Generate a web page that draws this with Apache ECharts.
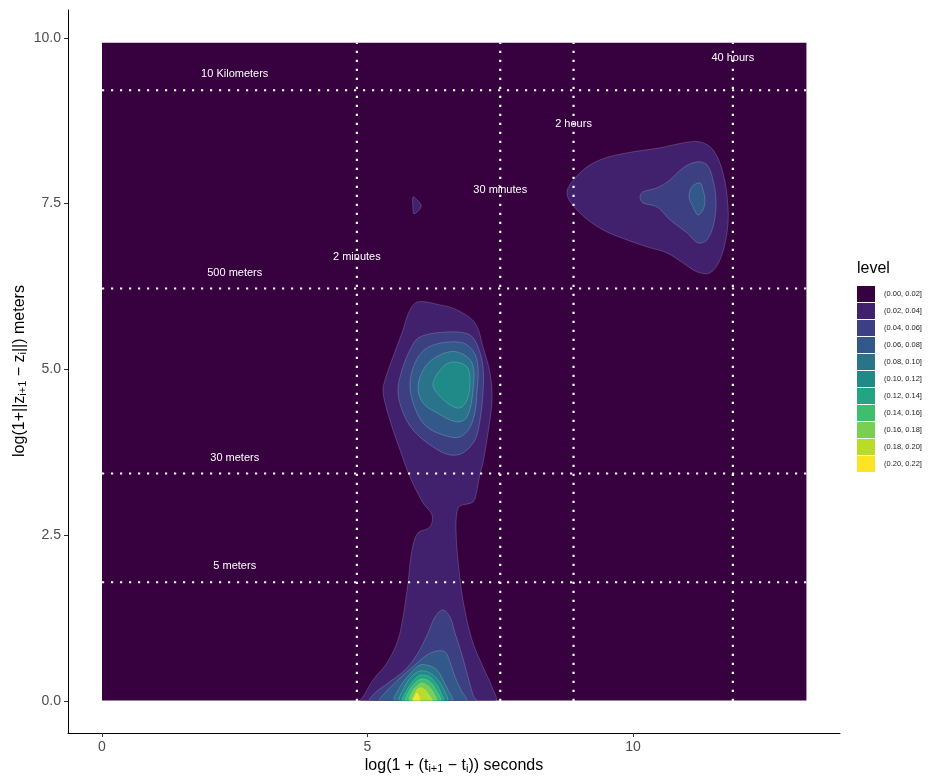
<!DOCTYPE html>
<html>
<head>
<meta charset="utf-8">
<script src="https://cdn.jsdelivr.net/npm/echarts@6/dist/echarts.min.js"></script>
<style>
  html, body { margin: 0; padding: 0; background: #ffffff; }
  #chart { width: 930px; height: 777px; }
</style>
</head>
<body>
<div id="chart"></div>
<script>
// Density bands of consecutive displacements: time gap (x) against distance (y).
const levelLabels = [
  '(0.00, 0.02]', '(0.02, 0.04]', '(0.04, 0.06]', '(0.06, 0.08]', '(0.08, 0.10]', '(0.10, 0.12]',
  '(0.12, 0.14]', '(0.14, 0.16]', '(0.16, 0.18]', '(0.18, 0.20]', '(0.20, 0.22]'
];
const levelColors = [
  '#37013f', '#41206d', '#3c3f82', '#33598a', '#29738b', '#1f8a88',
  '#22a583', '#41bd70', '#78cf51', '#b8dc28', '#fbe426'
];

// Extent of the estimated density field
const fieldX = [0, 13.27];
const fieldY = [0, 9.93];

// Contour polygons, [log seconds, log meters], one array per band
const band0 = [[[0, 0], [13.27, 0], [13.27, 9.93], [0, 9.93]]];
const band1 = [
  [[5.951, 6.018], [6.365, 5.973], [6.686, 5.897], [7.024, 5.701], [7.175, 5.339], [7.307, 4.947],
   [7.345, 4.540], [7.269, 4.042], [7.175, 3.590], [7.119, 3.424], [7.062, 3.183], [6.987, 3.002],
   [6.742, 2.941], [6.686, 2.851], [6.667, 2.579], [6.704, 2.127], [6.798, 1.523], [6.968, 0.920],
   [7.175, 0.513], [7.345, 0.211], [7.401, 0], [4.859, 0], [4.915, 0.060], [5.104, 0.317],
   [5.367, 0.573], [5.574, 0.920], [5.669, 1.267], [5.763, 1.780], [5.838, 2.278], [5.951, 2.534],
   [6.177, 2.624], [6.215, 2.805], [6.045, 2.986], [5.800, 3.379], [5.612, 3.786], [5.461, 4.133],
   [5.330, 4.495], [5.292, 4.691], [5.330, 4.842], [5.480, 5.189], [5.650, 5.551], [5.800, 5.897]],
  [[8.757, 7.662], [9.002, 7.964], [9.379, 8.160], [9.887, 8.265], [10.508, 8.341], [10.942, 8.416],
   [11.262, 8.431], [11.507, 8.311], [11.695, 7.964], [11.789, 7.451], [11.770, 7.059], [11.638, 6.652],
   [11.450, 6.456], [11.205, 6.471], [10.942, 6.606], [10.640, 6.757], [10.264, 6.848], [9.887, 6.953],
   [9.435, 7.104], [9.002, 7.360]],
  [[5.857, 7.602], [5.913, 7.572], [6.008, 7.481], [5.989, 7.421], [5.876, 7.345], [5.857, 7.436]]
];
const band2 = [
  [[6.554, 5.566], [6.930, 5.520], [7.081, 5.339], [7.175, 5.038], [7.175, 4.646], [7.119, 4.238],
   [7.024, 3.937], [6.798, 3.741], [6.554, 3.710], [6.234, 3.831], [5.857, 4.087], [5.650, 4.389],
   [5.574, 4.691], [5.650, 4.992], [5.800, 5.294], [5.989, 5.490]],
  [[5.047, 0], [5.141, 0.121], [5.386, 0.271], [5.706, 0.468], [5.951, 0.724], [6.139, 1.026],
   [6.271, 1.267], [6.422, 1.373], [6.554, 1.267], [6.648, 1.026], [6.780, 0.694], [6.893, 0.362],
   [6.987, 0.090], [7.043, 0]],
  [[10.132, 7.602], [10.188, 7.677], [10.452, 7.738], [10.697, 7.858], [10.942, 8.039], [11.205, 8.130],
   [11.394, 8.084], [11.507, 7.858], [11.563, 7.557], [11.525, 7.210], [11.394, 6.953], [11.224, 6.908],
   [11.017, 7.059], [10.697, 7.255], [10.452, 7.451], [10.188, 7.511]]
];
const band3 = [
  [[6.554, 5.415], [6.874, 5.370], [7.062, 5.143], [7.062, 4.646], [6.968, 4.193], [6.742, 3.982],
   [6.422, 4.012], [6.121, 4.133], [5.932, 4.344], [5.800, 4.736], [5.895, 5.098], [6.121, 5.324]],
  [[5.235, 0], [5.330, 0.121], [5.612, 0.347], [5.895, 0.543], [6.121, 0.694], [6.309, 0.754],
   [6.460, 0.739], [6.554, 0.588], [6.648, 0.362], [6.761, 0.166], [6.855, 0]],
  [[11.111, 7.753], [11.262, 7.813], [11.318, 7.707], [11.356, 7.557], [11.318, 7.406], [11.224, 7.330],
   [11.130, 7.451], [11.055, 7.602]]
];
const band4 = [
  [[6.686, 5.264], [6.968, 5.098], [6.987, 4.691], [6.874, 4.284], [6.686, 4.208], [6.309, 4.344],
   [6.045, 4.495], [5.951, 4.736], [6.083, 5.038], [6.365, 5.219]],
  [[5.518, 0], [5.612, 0.211], [5.800, 0.407], [5.989, 0.543], [6.177, 0.528], [6.309, 0.468],
   [6.422, 0.317], [6.516, 0.166], [6.591, 0]]
];
const band5 = [
  [[6.610, 5.113], [6.874, 5.038], [6.930, 4.796], [6.874, 4.540], [6.742, 4.419], [6.554, 4.465],
   [6.309, 4.646], [6.234, 4.796], [6.422, 5.038]],
  [[5.612, 0], [5.687, 0.196], [5.838, 0.377], [5.989, 0.452], [6.177, 0.422], [6.328, 0.317],
   [6.441, 0.166], [6.497, 0]]
];
const band6 = [
  [[5.669, 0], [5.744, 0.166], [5.876, 0.317], [6.008, 0.392], [6.177, 0.362], [6.309, 0.241],
   [6.384, 0.121], [6.422, 0]]
];
const band7 = [
  [[5.725, 0], [5.782, 0.151], [5.895, 0.271], [6.008, 0.332], [6.158, 0.302], [6.271, 0.196], [6.365, 0]]
];
const band8 = [
  [[5.800, 0], [5.838, 0.136], [5.932, 0.226], [6.026, 0.271], [6.139, 0.226], [6.234, 0.136], [6.290, 0]]
];
const band9 = [
  [[5.857, 0], [5.895, 0.121], [5.970, 0.196], [6.064, 0.181], [6.158, 0.090], [6.215, 0]]
];
const band10 = [
  [[5.857, 0], [5.895, 0.075], [5.932, 0.121], [5.970, 0.060], [5.989, 0]]
];
const bands = [band0, band1, band2, band3, band4, band5, band6, band7, band8, band9, band10];

// Reference distances and time gaps (natural log of 1 + value)
const distNames = ['5 meters', '30 meters', '500 meters', '10 Kilometers'];
const distLevels = [1.79, 3.43, 6.22, 9.21];
const distLabelX = 2.5;
const timeNames = ['2 minutes', '30 minutes', '2 hours', '40 hours'];
const timeLevels = [4.80, 7.50, 8.88, 11.88];
const timeLabelY = [6.7, 7.7, 8.7, 9.7];

const xTicks = [0, 5, 10];
const yTicks = [0, 2.5, 5, 7.5, 10];

const FONT = '"Liberation Sans", Arial, Helvetica, sans-serif';

const chart = echarts.init(document.getElementById('chart'), null, { renderer: 'canvas' });

function fieldClip(api) {
  const tl = api.coord([fieldX[0], fieldY[1]]);
  const br = api.coord([fieldX[1], fieldY[0]]);
  return { type: 'rect', shape: { x: tl[0], y: tl[1], width: br[0] - tl[0], height: br[1] - tl[1] - 0.4 } };
}

const bandSeries = bands.map((polys, i) => ({
  type: 'custom',
  name: levelLabels[i],
  coordinateSystem: 'cartesian2d',
  silent: true,
  itemStyle: { color: levelColors[i] },
  data: polys.map((p, k) => [k, 0]),
  renderItem: (params, api) => {
    const pts = polys[params.dataIndex].map(p => api.coord(p));
    return {
      type: 'polygon',
      shape: { points: pts, smooth: i === 0 ? 0 : 0.35 },
      style: {
        fill: levelColors[i],
        stroke: i === 0 ? null : 'rgba(255,255,255,0.3)',
        lineWidth: 0.6
      },
      clipPath: fieldClip(api)
    };
  }
}));

const distSeries = {
  type: 'custom',
  name: 'distance guides',
  coordinateSystem: 'cartesian2d',
  silent: true,
  data: distLevels.map(v => [0, v]),
  renderItem: (params, api) => {
    const k = params.dataIndex;
    const y = distLevels[k];
    const a = api.coord([fieldX[0], y]);
    const b = api.coord([fieldX[1], y]);
    const lp = api.coord([distLabelX, y]);
    return {
      type: 'group',
      children: [
        { type: 'line', shape: { x1: a[0], y1: a[1], x2: b[0], y2: b[1] },
          style: { stroke: '#ffffff', lineWidth: 2.2, lineDash: [2.2, 6.8] } },
        { type: 'text', style: { text: distNames[k], x: lp[0], y: lp[1] - 16, fill: '#ffffff',
          font: '11px ' + FONT, textAlign: 'center', textVerticalAlign: 'middle' } }
      ]
    };
  }
};

const timeSeries = {
  type: 'custom',
  name: 'time guides',
  coordinateSystem: 'cartesian2d',
  silent: true,
  data: timeLevels.map(v => [v, 0]),
  renderItem: (params, api) => {
    const k = params.dataIndex;
    const x = timeLevels[k];
    const a = api.coord([x, fieldY[0]]);
    const b = api.coord([x, fieldY[1]]);
    const lp = api.coord([x, timeLabelY[k]]);
    return {
      type: 'group',
      children: [
        { type: 'line', shape: { x1: a[0], y1: a[1], x2: b[0], y2: b[1] },
          style: { stroke: '#ffffff', lineWidth: 2.2, lineDash: [2.2, 6.8] } },
        { type: 'text', style: { text: timeNames[k], x: lp[0], y: lp[1], fill: '#ffffff',
          font: '11px ' + FONT, textAlign: 'center', textVerticalAlign: 'middle' } }
      ]
    };
  }
};

const subStyle = { fontSize: 11, lineHeight: 11, verticalAlign: 'bottom', fontFamily: FONT, fill: '#000' };

const option = {
  animation: false,
  backgroundColor: '#ffffff',
  grid: { left: 68, right: 90, top: 10, bottom: 44, containLabel: false },
  xAxis: {
    type: 'value',
    min: -0.64, max: 13.898,
    splitLine: { show: false },
    axisLine: { onZero: false, lineStyle: { color: '#000000', width: 1 } },
    axisTick: { length: 4, lineStyle: { color: '#333333' }, customValues: xTicks },
    axisLabel: { customValues: xTicks, color: '#4d4d4d', fontSize: 14, fontFamily: FONT, margin: 7 }
  },
  yAxis: {
    type: 'value',
    min: -0.483, max: 10.42,
    splitLine: { show: false },
    axisLine: { onZero: false, lineStyle: { color: '#000000', width: 1 } },
    axisTick: { length: 4, lineStyle: { color: '#333333' }, customValues: yTicks },
    axisLabel: { customValues: yTicks, color: '#4d4d4d', fontSize: 14, fontFamily: FONT, margin: 7,
      formatter: v => v.toFixed(1) }
  },
  legend: {
    data: levelLabels,
    orient: 'vertical',
    left: 857, top: 286,
    padding: 0,
    itemWidth: 18, itemHeight: 16, itemGap: 1,
    icon: 'rect',
    selectedMode: false,
    textStyle: { fontSize: 7.5, color: '#1a1a1a', fontFamily: FONT, padding: [0, 0, 0, 4] }
  },
  graphic: [
    { type: 'text', left: 857, top: 261,
      style: { text: 'level', font: '16px ' + FONT, fill: '#000000' } },
    { type: 'text', x: 454, y: 766,
      style: {
        text: 'log(1 + (t{sub|i+1} − t{sub|i})) seconds',
        font: '16px ' + FONT, fill: '#000000', align: 'center', verticalAlign: 'middle',
        textAlign: 'center', textVerticalAlign: 'middle',
        rich: { sub: subStyle }
      } },
    { type: 'text', x: 20, y: 371, rotation: Math.PI / 2,
      style: {
        text: 'log(1+||z{sub|i+1} − z{sub|i}||) meters',
        font: '16px ' + FONT, fill: '#000000', align: 'center', verticalAlign: 'middle',
        textAlign: 'center', textVerticalAlign: 'middle',
        rich: { sub: subStyle }
      } }
  ],
  series: [...bandSeries, distSeries, timeSeries]
};

chart.setOption(option);
</script>
</body>
</html>
